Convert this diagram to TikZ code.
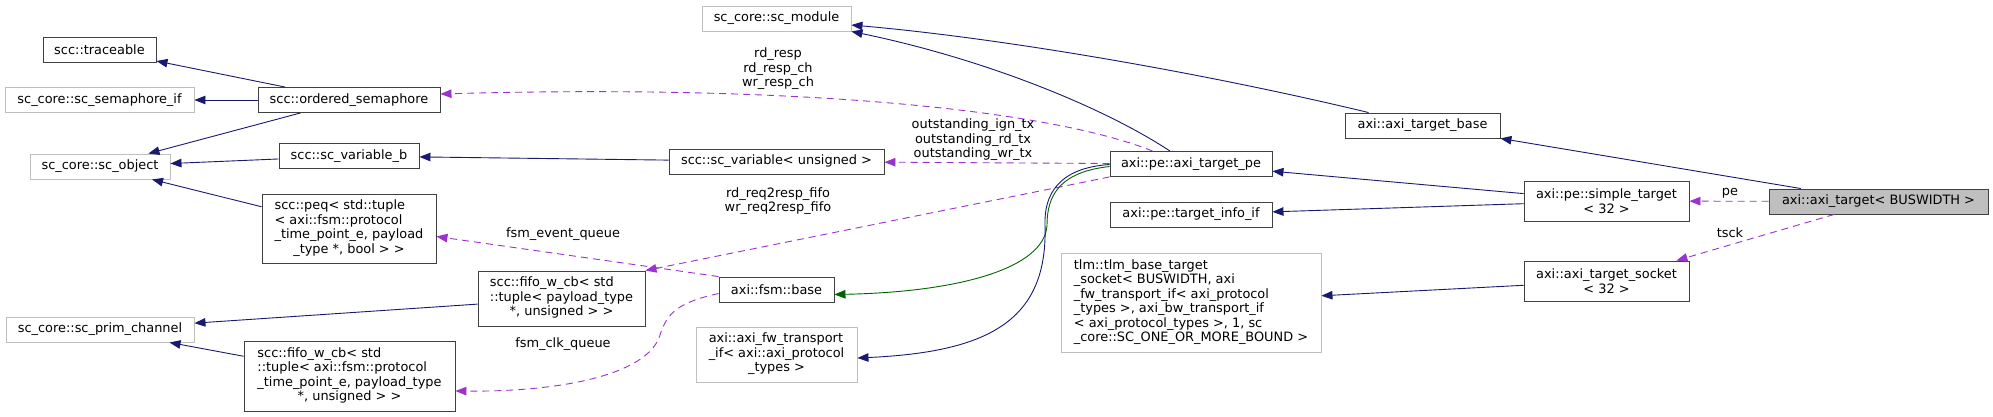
\documentclass[tikz,border=0pt]{standalone}
\usepackage{fontspec}
\setmainfont{DejaVu Sans}
\usepackage{xcolor}
\usepackage{tikz}
\usetikzlibrary{arrows.meta,calc}
\definecolor{edgeblue}{HTML}{191970}
\definecolor{edgepurple}{HTML}{9A32CD}
\definecolor{edgegreen}{HTML}{006400}
\definecolor{boxline}{HTML}{404040}
\definecolor{boxgray}{HTML}{BFBFBF}
\newcommand{\lastln}[1]{\multicolumn{1}{@{}c@{}}{#1}}

\begin{document}
\begin{tikzpicture}[x=1pt, y=-1pt,
				every node/.style={font=\fontsize{12.9}{14.5}\selectfont},
				clsbox/.style={draw=boxline, fill=white, rectangle, line width=0.9pt,
						inner sep=2pt, minimum height=25pt, align=center},
				extbox/.style={clsbox, draw=boxgray},
				mainbox/.style={clsbox, fill=boxgray},
				inh/.style={-{Triangle[length=11pt,width=8.5pt]}, color=edgeblue, line width=0.9pt},
				priv/.style={inh, color=edgegreen},
				usage/.style={-{Triangle[length=11pt,width=8.5pt]}, color=edgepurple, line width=0.9pt,
						dash pattern=on 7pt off 5pt},
				lbl/.style={align=center, inner sep=0pt},
			]
			\fill[white] (0,0) rectangle (1993,417);
			\useasboundingbox (0,0) rectangle (1993,417);
			\node[clsbox, minimum width=113pt] (trace) at (99.5,49.5) {scc::traceable};
			\node[extbox, minimum width=189pt] (semif) at (99.5,100) {sc\_core::sc\_semaphore\_if};
			\node[clsbox, minimum width=182pt] (osem)  at (349,100) {scc::ordered\_semaphore};
			\node[extbox, minimum width=140pt] (scobj) at (100,166.5) {sc\_core::sc\_object};
			\node[clsbox, minimum width=140pt] (svarb) at (349,156) {scc::sc\_variable\_b};
			\node[clsbox, minimum width=174pt, minimum height=69pt] (peq) at (349,228.5)
			{\begin{tabular}{@{}l@{}}scc::peq< std::tuple\\< axi::fsm::protocol\\\_time\_point\_e, payload\\\lastln{\_type *, bool > >}\end{tabular}};
			\node[extbox, minimum width=188pt] (prim) at (100,329.5) {sc\_core::sc\_prim\_channel};
			\node[clsbox, minimum width=211pt, minimum height=70pt] (fifob) at (349.5,376)
			{\begin{tabular}{@{}l@{}}scc::fifo\_w\_cb< std\\::tuple< axi::fsm::protocol\\\_time\_point\_e, payload\_type\\\lastln{*, unsigned > >}\end{tabular}};
			\node[clsbox, minimum width=167pt, minimum height=55pt] (fifop) at (561.5,298.5)
			{\begin{tabular}{@{}l@{}}scc::fifo\_w\_cb< std\\::tuple< payload\_type\\\lastln{*, unsigned > >}\end{tabular}};
			\node[extbox, minimum width=149pt] (scmod) at (776.5,18.5) {sc\_core::sc\_module};
			\node[clsbox, minimum width=215pt] (svar)  at (776.5,161.5) {scc::sc\_variable< unsigned >};
			\node[clsbox, minimum width=115pt] (fsmb)  at (776.5,289.5) {axi::fsm::base};
			\node[extbox, minimum width=161pt, minimum height=55pt] (fwif) at (776.5,354.5)
			{\begin{tabular}{@{}l@{}}axi::axi\_fw\_transport\\\_if< axi::axi\_protocol\\\lastln{\_types >}\end{tabular}};
			\node[extbox, minimum width=260pt, minimum height=99pt] (tlm) at (1191,302.5)
			{\begin{tabular}{@{}l@{}}tlm::tlm\_base\_target\\\_socket< BUSWIDTH, axi\\\_fw\_transport\_if< axi\_protocol\\\_types >, axi\_bw\_transport\_if\\< axi\_protocol\_types >, 1, sc\\\lastln{\_core::SC\_ONE\_OR\_MORE\_BOUND >}\end{tabular}};
			\node[clsbox, minimum width=162pt] (tpe)   at (1191,164) {axi::pe::axi\_target\_pe};
			\node[clsbox, minimum width=162pt] (tinfo) at (1191,214.5) {axi::pe::target\_info\_if};
			\node[clsbox, minimum width=155pt] (tbase) at (1422.5,125.5) {axi::axi\_target\_base};
			\node[clsbox, minimum width=165pt, minimum height=40pt] (simt) at (1606.5,201)
			{axi::pe::simple\_target\\< 32 >};
			\node[clsbox, minimum width=165pt, minimum height=40pt] (tsock) at (1606.5,281)
			{axi::axi\_target\_socket\\< 32 >};
			\node[mainbox, minimum width=219pt] (atgt) at (1878.5,201.5) {axi::axi\_target< BUSWIDTH >};
			\draw[inh] (osem) -- (trace);
			\draw[inh] (osem) -- (semif);
			\draw[inh] (osem) -- (scobj);
			\draw[inh] (svarb) -- (scobj);
			\draw[inh] (peq) -- (scobj);
			\draw[inh] (svar) -- (svarb);
			\draw[inh] (fifop) -- (prim);
			\draw[inh] (fifob) -- (prim);
			\draw[inh] ($(tpe.north)+(-21,0)$) .. controls (1100,105) and (980,58) .. (scmod.south east);
			\draw[inh] ($(tbase.north west)+(24,0)$) .. controls (1200,72) and (1000,38) .. ($(scmod.east)+(0,6.5)$);
			\draw[usage] ($(tpe.north west)+(43,0)$) .. controls (1050,110) and (800,84) .. ($(osem.east)+(0,-6)$);
			\draw[usage] (tpe) -- (svar);
			\draw[usage] (tpe.south west) -- (fifop.north east);
			\draw[usage] (fsmb.north west) -- ($(peq.east)+(0,8)$);
			\draw[usage] ($(fsmb.west)+(0,4)$) .. controls (680,302) and (667,312) .. (660,335)
			.. controls (648,375) and (560,392) .. ($(fifob.east)+(0,15)$);
			\draw[priv] ($(tpe.west)+(0,2.5)$) .. controls (1060,172) and (1047,195) .. (1047,225)
			.. controls (1045,268) and (960,292) .. ($(fsmb.east)+(0,5)$);
			\draw[inh] ($(tpe.west)+(0,0.5)$) .. controls (1058,168) and (1044,195) .. (1045,225)
			.. controls (1048,320) and (990,352) .. ($(fwif.east)+(0,3.5)$);
			\draw[inh] (simt) -- (tpe);
			\draw[inh] (simt) -- (tinfo);
			\draw[inh] (tsock) -- (tlm);
			\draw[inh] (atgt) -- (tbase);
			\draw[usage] (atgt) -- (simt);
			\draw[usage] (atgt) -- (tsock);
			\node[lbl] (lresp)  at (778,69)   {rd\_resp\\rd\_resp\_ch\\wr\_resp\_ch};
			\node[lbl] (lout)   at (973,140)  {outstanding\_ign\_tx\\outstanding\_rd\_tx\\outstanding\_wr\_tx};
			\node[lbl] (lfifo)  at (778,201)  {rd\_req2resp\_fifo\\wr\_req2resp\_fifo};
			\node[lbl] (levq)   at (563,234)  {fsm\_event\_queue};
			\node[lbl] (lclk)   at (563,344)  {fsm\_clk\_queue};
			\node[lbl] (lpe)    at (1730,193) {pe};
			\node[lbl] (ltsck)  at (1730,233) {tsck};
		\end{tikzpicture}
\end{document}
